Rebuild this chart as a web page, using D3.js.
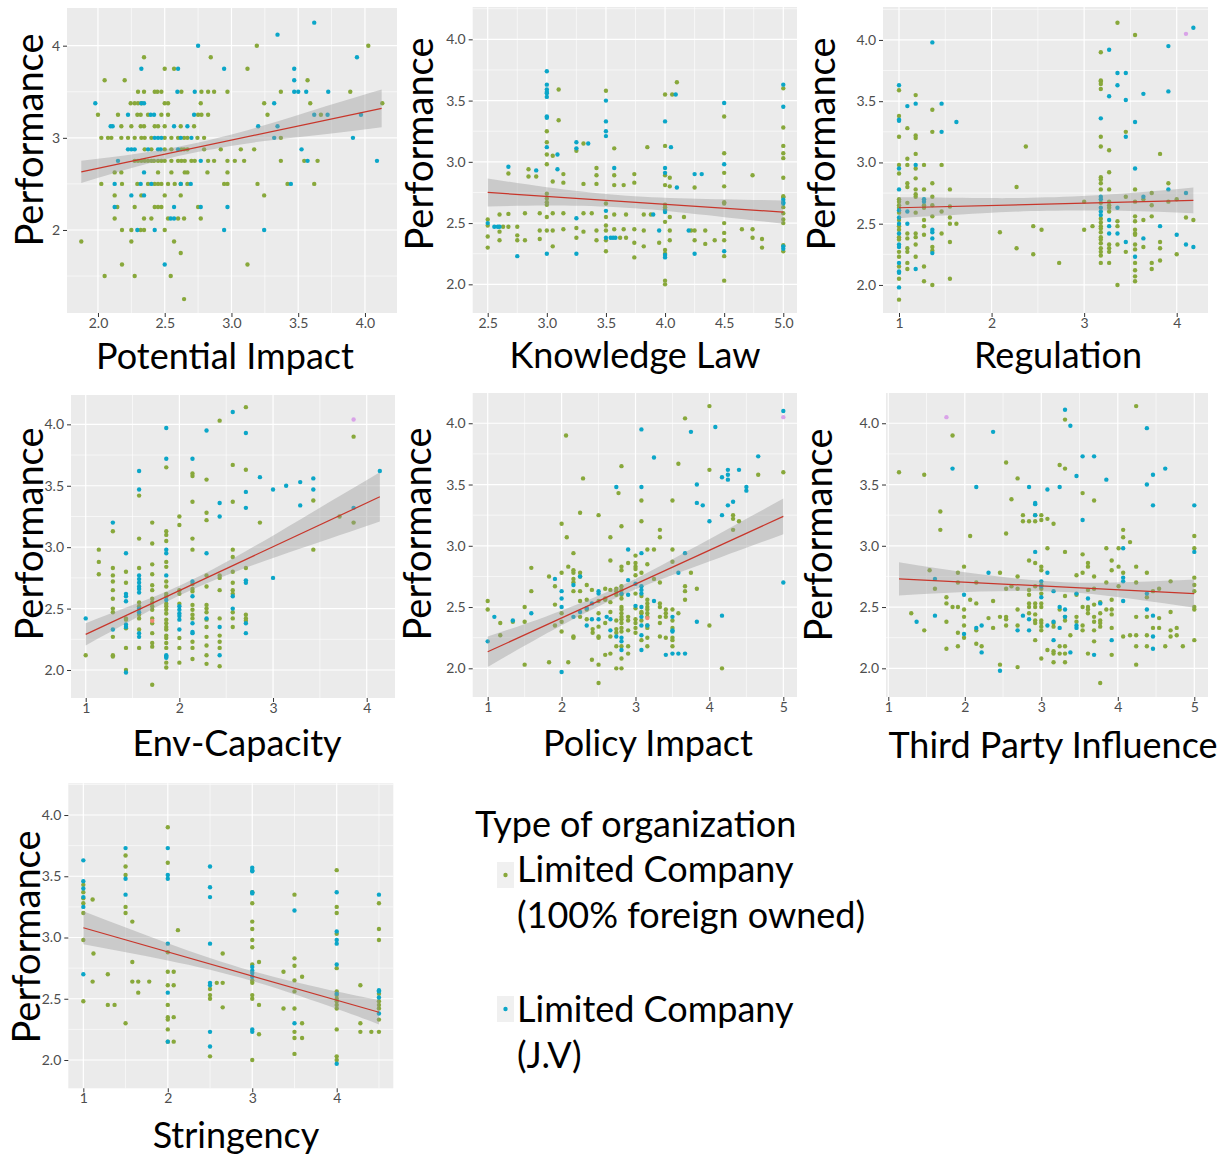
<!DOCTYPE html>
<html>
<head>
<meta charset="utf-8">
<script src="https://cdn.jsdelivr.net/npm/d3@7"></script>
<style>
  body { margin: 0; background: #fff; }
  svg text { font-family: Lato, "Open Sans", sans-serif; }
</style>
</head>
<body>
<svg id="chart" width="1225" height="1159"></svg>
<script>
// ---------- data ----------
// panel 1 is stored by rows: [y, x1, x2, ...]; the rest by columns: [x, y1, y2, ...]

let yTitle = "Performance"
let legendTitle = "Type of organization"
let legendLabels = [["Limited Company", "(100% foreign owned)"], ["Limited Company", "(J.V)"]]

// Potential Impact
let impactXTicks = [2.0, 2.5, 3.0, 3.5, 4.0]
let impactYTicks = [2, 3, 4]
let impactGreenRows = [
  [4.0, 3.19, 4.025], [3.875, 2.345, 2.845], [3.75, 2.5, 2.57, 3.12], [3.625, 2.05, 2.2, 3.57],
  [3.5, 2.3, 2.345, 2.425, 2.445, 2.475, 2.625, 2.775, 2.825, 2.87, 2.97, 3.37, 3.89],
  [3.375, 2.245, 2.275, 2.3, 2.325, 2.5, 2.525, 2.77, 3.245, 3.59, 4.13],
  [3.25, 2.0, 2.15, 2.295, 2.32, 2.375, 2.475, 2.525, 2.75, 2.775, 2.825, 3.27, 3.67],
  [3.125, 2.175, 2.25, 2.32, 2.345, 2.425, 2.45, 2.5, 2.62, 2.72],
  [3.0, 2.025, 2.075, 2.1, 2.175, 2.225, 2.275, 2.325, 2.35, 2.4, 2.5, 2.55, 2.6, 2.645, 2.67, 2.745, 2.795, 3.37],
  [2.875, 2.35, 2.4, 2.5, 2.55, 2.625, 2.645, 2.67, 2.795, 2.92, 3.07, 3.17],
  [2.75, 2.275, 2.3, 2.325, 2.35, 2.375, 2.4, 2.42, 2.45, 2.475, 2.5, 2.55, 2.6, 2.625, 2.65, 2.7, 2.725, 2.825, 2.87, 2.97, 3.025, 3.095, 3.37, 3.545, 3.645],
  [2.625, 2.125, 2.175, 2.45, 2.55, 2.65, 2.67, 2.82, 2.97],
  [2.5, 2.025, 2.18, 2.295, 2.375, 2.425, 2.45, 2.475, 2.525, 2.575, 2.62, 2.67, 2.945, 2.97, 3.195, 3.42, 3.62],
  [2.375, 2.125, 2.325, 2.5, 2.62, 3.245],
  [2.25, 2.145, 2.275, 2.425, 2.45, 2.475, 2.75],
  [2.125, 2.125, 2.345, 2.4, 2.525, 2.6, 2.645, 2.77],
  [2.0, 2.18, 2.25, 2.32, 2.345, 2.5],
  [1.875, 1.875, 2.25, 2.57], [1.75, 2.62], [1.625, 2.18, 3.12], [1.5, 2.05, 2.275, 2.545], [1.25, 2.645]
]
let impactBlueRows = [
  [4.25, 3.62], [4.12, 3.345], [4.0, 2.75], [3.875, 3.94], [3.75, 2.325, 2.6, 2.945, 3.47], [3.625, 3.47],
  [3.5, 2.595, 2.725, 3.47, 3.5, 3.56, 3.725],
  [3.375, 1.98, 2.325, 2.345, 3.32],
  [3.25, 2.225, 2.395, 2.42, 2.72, 3.62, 3.72, 3.97],
  [3.125, 2.095, 2.11, 2.57, 2.67, 3.2, 3.345],
  [3.0, 2.425, 2.45, 2.475, 2.62, 2.7, 3.32, 3.91],
  [2.875, 2.225, 2.25, 2.275, 2.375, 2.45, 2.47, 2.6, 3.525],
  [2.75, 2.15, 2.77, 3.57, 4.09], [2.625, 2.345],
  [2.5, 2.125, 2.32, 2.4, 2.62, 2.695, 3.445],
  [2.375, 2.25, 2.345], [2.25, 2.125, 2.57, 2.77, 2.97], [2.125, 2.545, 2.57],
  [2.0, 2.295, 2.425, 2.945, 3.245], [1.625, 2.5]
]
let impactFit = [1.875, 2.63, 4.125, 3.32]
let impactBand = [[1.875, 0.12], [2.3, 0.07], [2.7, 0.05], [3.2, 0.08], [3.7, 0.15], [4.125, 0.205]]

// Knowledge Law
let lawXTicks = [2.5, 3.0, 3.5, 4.0, 4.5, 5.0]
let lawGreen = [
  [2.5, 2.53, 2.48, 2.39, 2.3], [2.6, 2.43, 2.36, 2.57], [2.63, 2.47], [2.675, 2.905, 2.575, 2.47],
  [2.75, 2.47, 2.4, 2.36], [2.815, 2.58, 2.36], [2.845, 2.94, 2.88], [2.91, 2.88], [2.94, 2.58, 2.44, 2.37],
  [3.0, 3.25, 3.16, 3.06, 2.98, 2.74, 2.7, 2.67, 2.65, 2.55, 2.44], [3.05, 3.05, 2.84, 2.58, 2.44, 2.31],
  [3.1, 3.59, 3.34], [3.14, 2.9, 2.83, 2.58, 2.45], [3.25, 3.09, 2.46, 2.38], [3.31, 3.15, 2.82, 2.58, 2.43],
  [3.38, 2.58], [3.42, 2.95, 2.89, 2.82, 2.44, 2.36], [3.5, 3.58, 2.66, 2.55, 2.48, 2.44, 2.36, 2.27],
  [3.57, 3.11, 2.89, 2.81, 2.57, 2.45], [3.62, 2.38], [3.65, 2.81, 2.45], [3.67, 2.57, 2.38],
  [3.74, 2.9, 2.83, 2.45, 2.34, 2.22], [3.82, 2.57, 2.44, 2.31], [3.85, 3.12], [3.88, 2.57], [3.95, 2.34],
  [4.0, 3.55, 3.13, 2.89, 2.81, 2.65, 2.63, 2.61, 2.51, 2.28, 2.25, 2.03, 2.0],
  [4.04, 2.87, 2.8, 2.55, 2.44, 2.36], [4.06, 3.55], [4.1, 3.65], [4.16, 2.55], [4.22, 2.44],
  [4.25, 2.79, 2.44, 2.36], [4.34, 2.44, 2.33], [4.42, 2.36],
  [4.5, 3.37, 3.07, 2.91, 2.8, 2.67, 2.66, 2.5, 2.42, 2.36, 2.23, 2.03],
  [4.65, 2.45], [4.74, 2.89, 2.45, 2.38], [4.82, 2.37, 2.3],
  [5.0, 3.6, 3.28, 3.13, 3.07, 3.03, 2.87, 2.72, 2.71, 2.63, 2.58, 2.53, 2.5, 2.32, 2.27]
]
let lawBlue = [
  [2.5, 2.5], [2.556, 2.47], [2.585, 2.47], [2.6, 2.47], [2.675, 2.96], [2.75, 2.23], [2.91, 2.93],
  [3.0, 3.74, 3.63, 3.59, 3.57, 3.56, 3.53, 3.37, 3.36, 3.12, 2.25], [3.09, 3.06, 2.94],
  [3.25, 3.16, 3.11, 2.54, 2.25], [3.35, 3.15], [3.5, 3.5, 3.33, 3.25, 3.21, 2.6, 2.38],
  [3.54, 2.38], [3.56, 2.38], [3.58, 2.38], [3.57, 2.95], [3.9, 2.57], [3.95, 2.44],
  [4.0, 3.33, 2.95, 2.91, 2.6, 2.59, 2.24, 2.22], [4.05, 3.12], [4.09, 3.55], [4.1, 2.79], [4.2, 2.44],
  [4.25, 2.9, 2.25], [4.31, 2.9], [4.5, 3.48, 2.98, 2.27], [5.0, 3.63, 3.45, 2.69, 2.67, 2.66, 2.31, 2.29]
]
let lawFit = [2.5, 2.75, 5.0, 2.59]
let lawBand = [[2.5, 0.115], [3.0, 0.075], [3.6, 0.05], [4.2, 0.06], [5.0, 0.095]]

// Regulation
let regXTicks = [1, 2, 3, 4]
let regGreen = [
  [1.0, 3.59, 3.38, 3.21, 2.98, 2.91, 2.7, 2.68, 2.65, 2.63, 2.59, 2.53, 2.48, 2.45, 2.39, 2.37, 2.27, 2.23, 2.15, 2.05, 1.88],
  [1.09, 3.28, 3.03, 2.98, 2.83, 2.8, 2.67, 2.42, 2.38, 2.3, 2.27, 2.18, 2.13],
  [1.18, 3.55, 3.22, 3.2, 3.07, 2.95, 2.87, 2.78, 2.74, 2.72, 2.59, 2.42, 2.39, 2.33, 2.23],
  [1.27, 2.98, 2.78, 2.65, 2.63, 2.53, 2.48, 2.41, 2.15, 2.03],
  [1.36, 3.43, 3.25, 2.83, 2.72, 2.65, 2.56, 2.31, 2.28, 2.0],
  [1.46, 2.98, 2.6, 2.42], [1.55, 2.78, 2.64, 2.55, 2.5, 2.35, 2.05], [1.62, 2.5],
  [2.09, 2.43], [2.27, 2.8, 2.3], [2.37, 3.13], [2.45, 2.48, 2.25], [2.54, 2.45], [2.73, 2.18],
  [3.0, 2.68, 2.45], [3.09, 2.48],
  [3.18, 3.9, 3.67, 3.66, 3.64, 3.6, 3.21, 3.13, 2.88, 2.86, 2.83, 2.78, 2.67, 2.54, 2.51, 2.48, 2.46, 2.43, 2.39, 2.37, 2.34, 2.3, 2.27, 2.24, 2.18],
  [3.27, 3.1, 2.92, 2.78, 2.68, 2.65, 2.63, 2.6, 2.33, 2.3, 2.27, 2.18],
  [3.36, 4.14, 2.52, 2.48, 2.33, 2.0], [3.45, 3.25, 2.72, 2.27],
  [3.55, 4.04, 2.78, 2.68, 2.56, 2.52, 2.45, 2.42, 2.41, 2.33, 2.29, 2.18, 2.12, 2.07, 2.03],
  [3.64, 2.7, 2.53, 2.31], [3.73, 2.75, 2.65, 2.56, 2.18, 2.13], [3.82, 3.07, 2.35, 2.3, 2.2],
  [3.91, 2.83, 2.68], [4.0, 2.7, 2.25], [4.1, 2.55], [4.18, 2.53]
]
let regBlue = [
  [1.0, 3.63, 3.35, 3.34, 2.95, 2.78, 2.61, 2.55, 2.5, 2.42, 2.33, 2.31, 2.18, 2.11, 2.1, 1.98],
  [1.09, 3.46, 2.6, 2.5], [1.18, 3.48, 2.98, 2.13], [1.27, 2.7, 2.68], [1.36, 3.98, 2.45, 2.43, 2.38, 2.26],
  [1.46, 3.48, 3.25], [1.62, 3.33], [3.18, 3.36, 2.72, 2.7, 2.63, 2.6, 2.57], [3.27, 3.92, 3.54, 2.53, 2.48, 2.42],
  [3.36, 3.73, 3.63, 2.63, 2.42], [3.45, 3.73, 3.51, 3.21, 2.35], [3.55, 3.33, 2.95, 2.23],
  [3.64, 3.56, 2.72, 2.38], [3.82, 2.48], [3.91, 3.95, 3.58, 2.78], [4.0, 2.41], [4.1, 2.75, 2.33], [4.18, 4.1, 2.31]
]
let regPink = [[4.1, 4.05]]
let regFit = [1.0, 2.63, 4.18, 2.69]
let regBand = [[1, 0.085], [2, 0.06], [2.6, 0.055], [3.4, 0.07], [4.18, 0.105]]

// Env-Capacity
let capXTicks = [1, 2, 3, 4]
let capGreen = [
  [1.0, 2.12], [1.14, 2.98, 2.88, 2.78],
  [1.29, 3.13, 2.83, 2.77, 2.72, 2.65, 2.58, 2.5, 2.47, 2.27, 2.12, 2.11],
  [1.43, 2.8, 2.71, 2.42, 2.41, 2.34, 2.18, 2.0],
  [1.57, 3.42, 3.07, 2.83, 2.55, 2.52, 2.45, 2.42, 2.33, 2.18],
  [1.71, 3.2, 3.03, 2.86, 2.78, 2.69, 2.65, 2.58, 2.55, 2.52, 2.49, 2.42, 2.38, 2.3, 2.22, 2.19, 1.88],
  [1.86, 3.65, 3.13, 3.1, 3.05, 2.88, 2.84, 2.72, 2.68, 2.62, 2.6, 2.54, 2.52, 2.49, 2.46, 2.41, 2.38, 2.35, 2.33, 2.28, 2.26, 2.22, 2.18, 2.06, 2.02],
  [2.0, 3.25, 3.18, 2.65, 2.62, 2.54, 2.26, 2.18, 2.06],
  [2.14, 3.6, 3.58, 3.37, 3.07, 2.98, 2.7, 2.66, 2.64, 2.53, 2.49, 2.45, 2.42, 2.23, 2.18, 2.09],
  [2.29, 3.55, 3.28, 3.22, 2.77, 2.68, 2.53, 2.5, 2.47, 2.41, 2.35, 2.27, 2.2, 2.12, 2.05],
  [2.43, 4.03, 2.77, 2.75, 2.65, 2.42, 2.28, 2.23, 2.18, 2.03],
  [2.57, 3.67, 3.37, 2.98, 2.92, 2.8, 2.71, 2.65, 2.62, 2.47, 2.42, 2.35],
  [2.71, 4.14, 3.63, 2.83, 2.45, 2.42, 2.4], [2.86, 3.2], [3.43, 3.38, 2.98], [3.71, 3.25], [3.86, 3.9, 3.2]
]
let capBlue = [
  [1.0, 2.42], [1.29, 3.2, 2.33], [1.43, 2.95, 2.62, 2.6, 2.56, 2.37, 2.35, 1.98],
  [1.57, 3.62, 3.47, 2.77, 2.74, 2.71, 2.68, 2.66, 2.63, 2.5, 2.47, 2.3, 2.27],
  [1.86, 3.97, 3.72, 2.98, 2.95, 2.77, 2.57, 2.12, 2.11, 2.1],
  [2.0, 2.52, 2.49, 2.46, 2.44, 2.41, 2.33], [2.14, 3.72, 2.72, 2.6, 2.38, 2.31, 2.3],
  [2.29, 3.95, 2.95, 2.42], [2.43, 3.36, 3.25, 2.35, 2.12], [2.57, 4.1, 2.6, 2.5],
  [2.71, 3.93, 3.45, 3.32, 2.73, 2.71, 2.38, 2.3], [2.86, 3.57], [3.0, 3.47, 2.75], [3.14, 3.5],
  [3.29, 3.53, 3.34], [3.43, 3.56, 3.47], [3.86, 3.32], [4.14, 3.62]
]
let capPink = [[3.86, 4.04]]
let capSalmon = [[1.71, 2.4]]
let capFit = [1.0, 2.29, 4.14, 3.41]
let capBand = [[1, 0.09], [1.5, 0.06], [2.0, 0.04], [2.6, 0.06], [3.3, 0.12], [4.14, 0.2]]

// Policy Impact
let polXTicks = [1, 2, 3, 4, 5]
let polGreen = [
  [1.0, 2.55, 2.48], [1.17, 2.37, 2.27], [1.34, 2.38], [1.5, 2.5, 2.38, 2.03], [1.59, 2.82, 2.63],
  [1.83, 2.75, 2.05], [1.91, 2.67, 2.52, 2.35], [2.0, 3.18, 2.78, 2.45, 2.38, 2.3], [2.06, 3.9], [2.07, 3.07],
  [2.09, 2.83, 2.05], [2.16, 2.94, 2.8, 2.78, 2.73, 2.7, 2.63, 2.26, 2.25], [2.25, 3.27, 2.78, 2.75, 2.63, 2.55, 2.42],
  [2.29, 3.55], [2.34, 2.68, 2.56, 2.48, 2.4], [2.41, 2.64, 2.07], [2.42, 2.32, 2.29],
  [2.5, 3.25, 2.55, 2.45, 2.34, 2.26, 2.25, 2.03, 1.88], [2.59, 2.65, 2.57, 2.56, 2.37, 2.11],
  [2.66, 3.07, 2.88, 2.64, 2.54, 2.46, 2.26, 2.12], [2.74, 2.65, 2.63, 2.6, 2.39, 2.32, 2.29, 2.18, 2.0], [2.77, 3.43],
  [2.81, 3.65, 3.16, 2.83, 2.8, 2.67, 2.64, 2.6, 2.57, 2.5, 2.48, 2.45, 2.42, 2.4, 2.37, 2.33, 2.3, 2.18, 2.08, 2.0],
  [2.9, 2.86, 2.42, 2.39, 2.31, 2.18, 2.12], [3.0, 2.92, 2.86, 2.83, 2.81, 2.76, 2.61, 2.49, 2.4, 2.37, 2.33, 2.29],
  [3.08, 3.37, 3.2, 2.78, 2.59, 2.46, 2.45, 2.39, 2.23],
  [3.16, 2.97, 2.85, 2.56, 2.53, 2.5, 2.48, 2.45, 2.42, 2.35, 2.33, 2.25, 2.18], [3.25, 2.97, 2.73],
  [3.33, 3.13, 3.07, 2.7, 2.53, 2.5, 2.42, 2.37, 2.26], [3.41, 2.48, 2.45, 2.42, 2.25],
  [3.5, 3.37, 2.97, 2.87, 2.48, 2.39, 2.33, 2.25, 2.23, 2.18], [3.58, 3.67, 2.45], [3.67, 4.04, 2.67, 2.63, 2.56],
  [3.75, 2.78], [3.83, 2.65], [4.0, 4.14, 3.62, 2.35], [4.17, 2.0], [4.32, 3.25, 3.22, 3.13], [4.4, 3.2],
  [4.66, 3.58], [5.0, 3.6]
]
let polBlue = [
  [1.0, 2.22], [1.09, 2.42], [1.34, 2.39], [1.59, 2.45], [1.91, 2.73], [2.0, 2.63, 2.57, 2.5, 1.97],
  [2.16, 2.68, 2.42], [2.25, 2.75, 2.46], [2.34, 2.49, 2.35], [2.41, 2.53, 2.4], [2.5, 2.63, 2.61, 2.4],
  [2.61, 2.42], [2.66, 2.4, 2.31], [2.74, 3.48, 2.26], [2.81, 2.61, 2.25, 2.22, 2.15], [2.9, 2.97, 2.72, 2.6],
  [3.0, 2.69, 2.51], [3.08, 3.95, 3.48, 2.94, 2.67, 2.64, 2.61, 2.5, 2.42, 2.35, 2.27, 2.15], [3.16, 2.35],
  [3.25, 3.72, 2.55], [3.41, 2.11], [3.5, 2.42, 2.31, 2.3, 2.12], [3.58, 2.78, 2.12], [3.67, 2.94, 2.12],
  [3.75, 3.93], [3.83, 3.5, 3.35, 2.38], [3.91, 3.33], [4.0, 3.2], [4.08, 3.97], [4.17, 3.56, 3.25, 2.43],
  [4.25, 3.62, 3.58, 3.54, 3.33], [4.32, 3.36], [4.4, 3.62], [4.5, 3.48, 3.45], [4.66, 3.73], [5.0, 4.1, 2.7]
]
let polPink = [[5.0, 4.05]]
let polSalmon = [[3.16, 2.41]]
let polFit = [1.0, 2.135, 5.0, 3.24]
let polBand = [[1, 0.125], [1.8, 0.07], [2.7, 0.04], [3.6, 0.07], [5, 0.145]]

// Third Party Influence
let tpXTicks = [1, 2, 3, 4, 5]
let tpGreen = [
  [1.14, 3.6], [1.3, 2.45], [1.47, 3.58, 2.31], [1.54, 2.8], [1.61, 2.65], [1.68, 3.28, 3.13],
  [1.76, 2.58, 2.53, 2.38, 2.16], [1.84, 3.9, 2.5], [1.91, 2.78, 2.7, 2.5, 2.29, 2.18],
  [1.99, 2.83, 2.48, 2.42, 2.35, 2.25], [2.07, 3.08, 2.56], [2.15, 2.7, 2.53, 2.31, 2.2], [2.22, 2.18],
  [2.31, 2.41], [2.37, 2.55, 2.33], [2.46, 2.78, 2.42, 2.03], [2.54, 3.68, 3.1, 2.65, 2.42, 2.4, 2.35],
  [2.61, 3.38, 2.67], [2.69, 3.55, 2.75, 2.65, 2.48, 2.35, 2.01], [2.76, 3.25, 3.2],
  [2.84, 3.2, 2.88, 2.64, 2.6, 2.53, 2.5, 2.45], [2.92, 3.25, 3.2, 2.86, 2.67, 2.53, 2.5, 2.44, 2.39, 2.37, 2.23],
  [3.0, 3.25, 3.21, 2.83, 2.8, 2.68, 2.65, 2.61, 2.53, 2.5, 2.39, 2.37, 2.34, 2.31, 2.08],
  [3.08, 3.22, 2.98, 2.15], [3.16, 3.18, 2.37, 2.34, 2.14, 2.12, 2.05], [3.24, 3.66, 2.48, 2.18, 2.12],
  [3.31, 4.03, 3.63, 2.95, 2.59, 2.42, 2.39, 2.18, 2.12, 2.05], [3.38, 2.27], [3.46, 2.76, 2.6, 2.42, 2.38],
  [3.54, 3.43, 2.93, 2.78, 2.5, 2.35, 2.31], [3.61, 2.86, 2.83, 2.64, 2.5, 2.48, 2.45, 2.12],
  [3.69, 3.37, 2.75, 2.65, 2.52, 2.42, 2.38, 2.31, 2.22], [3.77, 2.54, 2.45, 2.39, 2.37, 2.34, 1.88],
  [3.85, 2.98, 2.7, 2.48], [3.92, 2.88, 2.8, 2.56, 2.48, 2.44, 2.33, 2.11], [4.01, 2.98, 2.83, 2.67],
  [4.07, 3.13, 3.07, 2.78, 2.26], [4.16, 3.03, 2.27], [4.24, 4.14, 2.83, 2.7, 2.42, 2.27, 2.18, 2.03],
  [4.38, 2.78, 2.58, 2.42, 2.27, 2.18], [4.46, 2.63, 2.33], [4.54, 2.65, 2.41, 2.33], [4.62, 2.18],
  [4.69, 2.71, 2.46, 2.31, 2.26], [4.77, 2.33, 2.27], [4.85, 2.18], [5.0, 3.08, 2.98, 2.74, 2.68, 2.63, 2.5, 2.48, 2.23]
]
let tpBlue = [
  [1.37, 2.38], [1.61, 2.73, 2.43], [1.84, 3.63], [1.99, 2.6, 2.28], [2.15, 3.48, 2.33], [2.22, 2.35, 2.13],
  [2.31, 2.78], [2.37, 3.93], [2.46, 1.98], [2.69, 2.31], [2.76, 2.43], [2.84, 3.48, 2.4, 2.31],
  [2.92, 3.35, 3.34, 3.25, 2.95], [3.0, 2.71, 2.67, 2.58], [3.08, 3.46, 2.78, 2.35], [3.16, 2.63, 2.38, 2.23],
  [3.24, 3.48, 2.5, 2.33], [3.31, 4.11, 2.48, 2.42], [3.38, 3.98, 2.13], [3.46, 3.57, 2.61, 2.35, 2.33],
  [3.54, 3.73, 3.21], [3.61, 2.57], [3.69, 3.73, 2.11], [3.77, 2.53], [3.85, 3.54], [3.92, 2.23],
  [4.07, 2.98, 2.74, 2.71, 2.55], [4.38, 3.96, 3.5, 2.61, 2.48], [4.46, 3.58, 3.33, 2.43, 2.26, 2.16],
  [4.62, 3.63], [5.0, 3.33, 2.95]
]
let tpPink = [[1.76, 4.05]]
let tpFit = [1.14, 2.73, 5.0, 2.61]
let tpBand = [[1.14, 0.135], [2.2, 0.07], [3.3, 0.04], [4.2, 0.07], [5, 0.115]]

// Stringency
let strXTicks = [1, 2, 3, 4]
let strGreen = [
  [1.0, 3.43, 3.37, 3.32, 3.28, 3.2, 2.98, 2.48], [1.11, 3.31, 2.64], [1.12, 2.87], [1.29, 2.7, 2.45], [1.37, 2.45],
  [1.5, 3.67, 3.58, 3.51, 3.25, 3.2, 2.3], [1.58, 3.13, 2.8, 2.64], [1.65, 2.64, 2.55], [1.78, 2.64],
  [2.0, 3.9, 3.61, 2.88, 2.72, 2.61, 2.45, 2.35, 2.33, 2.25, 2.15], [2.07, 2.72, 2.61, 2.35, 2.15], [2.12, 3.06],
  [2.5, 2.58, 2.53, 2.5, 2.03], [2.58, 2.63], [2.65, 2.87, 2.63, 2.43],
  [3.0, 3.37, 3.28, 3.13, 3.07, 2.98, 2.92, 2.78, 2.65, 2.63, 2.53, 2.5, 2.0], [3.08, 2.8, 2.45, 2.21],
  [3.37, 2.72, 2.42], [3.5, 3.35, 2.83, 2.77, 2.65, 2.56, 2.42, 2.23, 2.18, 2.05], [3.59, 2.68, 2.3, 2.18],
  [4.0, 3.55, 3.25, 3.2, 3.03, 2.75, 2.56, 2.53, 2.5, 2.48, 2.45, 2.42, 2.25, 2.03, 2.0],
  [4.28, 2.61, 2.3, 2.23], [4.41, 2.23], [4.5, 3.28, 3.07, 2.98, 2.54, 2.48, 2.45, 2.42, 2.33, 2.23]
]
let strBlue = [
  [1.0, 3.63, 3.46, 3.4, 3.33, 3.25, 2.7], [1.5, 3.73, 3.48, 3.35], [2.0, 3.73, 3.51, 3.48, 2.95, 2.55, 2.15],
  [2.5, 3.58, 3.41, 3.33, 2.95, 2.63, 2.61, 2.23, 2.11],
  [3.0, 3.57, 3.55, 3.54, 3.37, 3.36, 2.76, 2.73, 2.71, 2.68, 2.25, 2.23], [3.5, 3.22, 2.3],
  [4.0, 3.37, 3.05, 2.98, 2.95, 2.78, 2.54, 1.97], [4.5, 3.35, 2.57, 2.56, 2.51, 2.38]
]
let strFit = [1.0, 3.08, 4.5, 2.39]
let strBand = [[1, 0.135], [2, 0.07], [3, 0.04], [4, 0.07], [4.5, 0.1]]

let halfTicks = [2.0, 2.5, 3.0, 3.5, 4.0]

// ---------- drawing ----------
let colors = { green: "#88a83b", blue: "#0ba6c8", pink: "#d9a3e8", salmon: "#f08a74" }

let fromRows = (arr) => arr.flatMap(r => r.slice(1).map(x => [x, r[0]]))
let fromCols = (arr) => arr.flatMap(c => c.slice(1).map(y => [c[0], y]))

let f1 = d3.format(".1f")
let fInt = d3.format("d")

let panels = [
  { xTitle: "Potential Impact", rect: [67, 8, 397, 313], xDom: [1.768, 4.24], yDom: [1.099, 4.409],
    xTicks: impactXTicks, xFmt: f1, yTicks: impactYTicks, yFmt: fInt,
    pts: { green: fromRows(impactGreenRows), blue: fromRows(impactBlueRows) },
    fit: impactFit, band: impactBand, xt: [225, 369], yt: [43, 140] },
  { xTitle: "Knowledge Law", rect: [472.7, 7, 797, 313], xDom: [2.373, 5.116], yDom: [1.766, 4.264],
    xTicks: lawXTicks, xFmt: f1, yTicks: halfTicks, yFmt: f1,
    pts: { green: fromCols(lawGreen), blue: fromCols(lawBlue) },
    fit: lawFit, band: lawBand, xt: [635, 368], yt: [433, 144] },
  { xTitle: "Regulation", rect: [883, 7, 1208, 313], xDom: [0.827, 4.338], yDom: [1.771, 4.269],
    xTicks: regXTicks, xFmt: fInt, yTicks: halfTicks, yFmt: f1,
    pts: { green: fromCols(regGreen), blue: fromCols(regBlue), pink: regPink },
    fit: regFit, band: regBand, xt: [1058, 368], yt: [835, 144] },
  { xTitle: "Env-Capacity", rect: [71, 395, 395, 698], xDom: [0.843, 4.302], yDom: [1.772, 4.239],
    xTicks: capXTicks, xFmt: fInt, yTicks: halfTicks, yFmt: f1,
    pts: { green: fromCols(capGreen), blue: fromCols(capBlue), pink: capPink, salmon: capSalmon },
    fit: capFit, band: capBand, xt: [237, 756], yt: [43, 534] },
  { xTitle: "Policy Impact", rect: [472.7, 393, 797, 697], xDom: [0.797, 5.185], yDom: [1.766, 4.247],
    xTicks: polXTicks, xFmt: fInt, yTicks: halfTicks, yFmt: f1,
    pts: { green: fromCols(polGreen), blue: fromCols(polBlue), pink: polPink, salmon: polSalmon },
    fit: polFit, band: polBand, xt: [648, 756], yt: [431, 534] },
  { xTitle: "Third Party Influence", rect: [886, 393, 1208, 697], xDom: [0.97, 5.179], yDom: [1.766, 4.247],
    xTicks: tpXTicks, xFmt: fInt, yTicks: halfTicks, yFmt: f1,
    pts: { green: fromCols(tpGreen), blue: fromCols(tpBlue), pink: tpPink },
    fit: tpFit, band: tpBand, xt: [1053, 758], yt: [832, 535] },
  { xTitle: "Stringency", rect: [68.3, 783.3, 393.3, 1088.3], xDom: [0.822, 4.67], yDom: [1.769, 4.259],
    xTicks: strXTicks, xFmt: fInt, yTicks: halfTicks, yFmt: f1,
    pts: { green: fromCols(strGreen), blue: fromCols(strBlue) },
    fit: strFit, band: strBand, xt: [236, 1148], yt: [40, 937] }
]

let svg = d3.select("#chart")

// minor breaks halfway between majors, kept inside the domain
let minorOf = (ticks, dom) => {
  let step = ticks[1] - ticks[0]
  let out = [ticks[0] - step / 2, ...ticks.map(t => t + step / 2)]
  return out.filter(v => v > dom[0] && v < dom[1])
}

panels.forEach(p => {
  let [x0, y0, x1, y1] = p.rect
  let xScale = d3.scaleLinear().domain(p.xDom).range([x0, x1])
  let yScale = d3.scaleLinear().domain(p.yDom).range([y1, y0])
  let g = svg.append("g")

  g.append("rect").attr("x", x0).attr("y", y0)
    .attr("width", x1 - x0).attr("height", y1 - y0).attr("fill", "#ebebeb")

  // grid
  let grid = g.append("g").attr("stroke", "#fff")
  grid.selectAll(".vmin").data(minorOf(p.xTicks, p.xDom)).enter().append("line")
    .attr("x1", d => xScale(d)).attr("x2", d => xScale(d)).attr("y1", y0).attr("y2", y1).attr("stroke-width", 0.6)
  grid.selectAll(".hmin").data(minorOf(p.yTicks, p.yDom)).enter().append("line")
    .attr("y1", d => yScale(d)).attr("y2", d => yScale(d)).attr("x1", x0).attr("x2", x1).attr("stroke-width", 0.6)
  grid.selectAll(".vmaj").data(p.xTicks).enter().append("line")
    .attr("x1", d => xScale(d)).attr("x2", d => xScale(d)).attr("y1", y0).attr("y2", y1).attr("stroke-width", 1.2)
  grid.selectAll(".hmaj").data(p.yTicks).enter().append("line")
    .attr("y1", d => yScale(d)).attr("y2", d => yScale(d)).attr("x1", x0).attr("x2", x1).attr("stroke-width", 1.2)

  // points
  Object.keys(p.pts).forEach(k => {
    g.append("g").selectAll("circle").data(p.pts[k]).enter().append("circle")
      .attr("cx", d => xScale(d[0])).attr("cy", d => yScale(d[1]))
      .attr("r", 2.2).attr("fill", colors[k])
  })

  // smoother ribbon + line
  let fitY = x => p.fit[1] + (x - p.fit[0]) * (p.fit[3] - p.fit[1]) / (p.fit[2] - p.fit[0])
  let area = d3.area().curve(d3.curveNatural)
    .x(d => xScale(d[0]))
    .y0(d => yScale(fitY(d[0]) - d[1]))
    .y1(d => yScale(fitY(d[0]) + d[1]))
  g.append("path").datum(p.band).attr("d", area).attr("fill", "#999").attr("fill-opacity", 0.4)
  g.append("line")
    .attr("x1", xScale(p.fit[0])).attr("y1", yScale(p.fit[1]))
    .attr("x2", xScale(p.fit[2])).attr("y2", yScale(p.fit[3]))
    .attr("stroke", "#c8362b").attr("stroke-width", 1.2)

  // axes
  let xAxis = d3.axisBottom(xScale).tickValues(p.xTicks).tickFormat(p.xFmt).tickSize(4).tickSizeOuter(0).tickPadding(1)
  let yAxis = d3.axisLeft(yScale).tickValues(p.yTicks).tickFormat(p.yFmt).tickSize(4).tickSizeOuter(0).tickPadding(3)
  let gx = g.append("g").attr("transform", "translate(0," + y1 + ")").call(xAxis)
  let gy = g.append("g").attr("transform", "translate(" + x0 + ",0)").call(yAxis)
  ;[gx, gy].forEach(a => {
    a.select(".domain").remove()
    a.selectAll("line").attr("stroke", "#333")
    a.selectAll("text").attr("fill", "#4d4d4d").style("font-size", "14px").style("font-family", "Lato, sans-serif")
  })

  // titles
  g.append("text").attr("x", p.xt[0]).attr("y", p.xt[1]).attr("text-anchor", "middle")
    .style("font-size", "36px").attr("fill", "#000").text(p.xTitle)
  g.append("text").attr("transform", "translate(" + p.yt[0] + "," + p.yt[1] + ") rotate(-90)")
    .attr("text-anchor", "middle").style("font-size", "38px").attr("fill", "#000").text(yTitle)
})

// legend
let lg = svg.append("g")
lg.append("text").attr("x", 475).attr("y", 837).style("font-size", "36px").text(legendTitle)
let legendKeys = [["green", 862, 882], ["blue", 996, 1022]]
legendKeys.forEach((k, i) => {
  lg.append("rect").attr("x", 497).attr("y", k[1]).attr("width", 17).attr("height", 26).attr("fill", "#f0f0f0")
  lg.append("circle").attr("cx", 505.5).attr("cy", k[1] + 13).attr("r", 2.2).attr("fill", colors[k[0]])
  lg.append("text").attr("x", 517).attr("y", k[2]).style("font-size", "36px").text(legendLabels[i][0])
  lg.append("text").attr("x", 517).attr("y", k[2] + 46).style("font-size", "36px").text(legendLabels[i][1])
})
</script>
</body>
</html>
